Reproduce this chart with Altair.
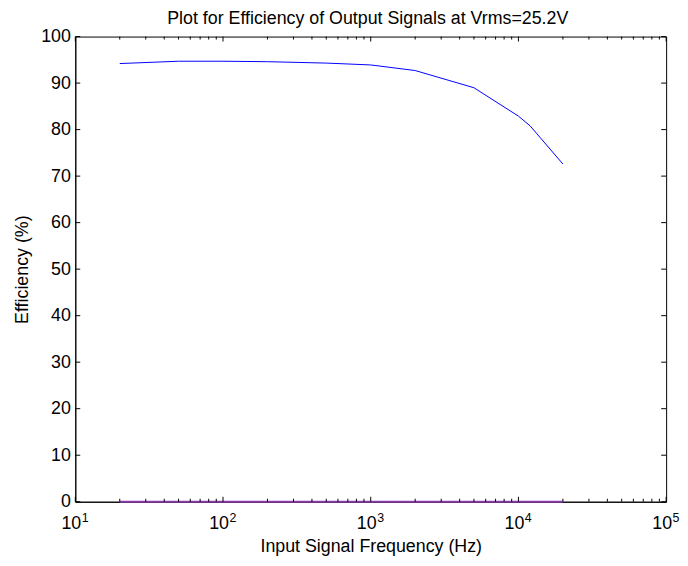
import altair as alt
import pandas as pd

# Data
freq = [20, 50, 100, 200, 500, 1000, 2000, 5000, 10000, 12000, 20000]
efficiency = [94.2, 94.7, 94.7, 94.6, 94.3, 93.9, 92.7, 89.0, 82.9, 80.8, 72.6]
zero_series = [0, 0, 0, 0, 0, 0, 0, 0, 0, 0, 0]

x_major = [10, 100, 1000, 10000, 100000]
x_base = ["10", "10", "10", "10", "10"]
x_exponent = ["1", "2", "3", "4", "5"]
x_minor = [m * 10 ** k for k in range(1, 5) for m in range(2, 10)]
y_major = [0, 10, 20, 30, 40, 50, 60, 70, 80, 90, 100]

W, H = 597, 470
FONT = "Liberation Sans"
FS = 18

df = pd.DataFrame({"freq": freq, "eff": efficiency, "zero": zero_series})
xmaj = pd.DataFrame({"v": x_major, "base": x_base, "exp": x_exponent})
xmin = pd.DataFrame({"v": x_minor})
ymaj = pd.DataFrame({"v": y_major})

xscale = alt.Scale(type="log", domain=[10, 100000], nice=False)
yscale = alt.Scale(domain=[0, 100], nice=False, zero=False)

eff_line = alt.Chart(df).mark_line(color="#0000FF", strokeWidth=1).encode(
    x=alt.X("freq:Q", scale=xscale,
            axis=alt.Axis(values=x_major, title="Input Signal Frequency (Hz)",
                          labels=False, tickSize=0, titlePadding=36, grid=False)),
    y=alt.Y("eff:Q", scale=yscale,
            axis=alt.Axis(values=y_major, title="Efficiency (%)", tickSize=0,
                          labelPadding=5, titlePadding=9, grid=False,
                          labelFlush=False, labelOverlap=False)),
)

zero_line = alt.Chart(df).mark_line(color="#8B3CAA", strokeWidth=2).encode(
    x=alt.X("freq:Q", scale=xscale),
    y=alt.Y("zero:Q", scale=yscale),
)

def xticks(data, length):
    bottom = alt.Chart(data).mark_rule(color="black", strokeWidth=1).encode(
        x=alt.X("v:Q", scale=xscale), y=alt.value(H), y2=alt.value(H - length))
    top = alt.Chart(data).mark_rule(color="black", strokeWidth=1).encode(
        x=alt.X("v:Q", scale=xscale), y=alt.value(0), y2=alt.value(length))
    return [bottom, top]

yt_left = alt.Chart(ymaj).mark_rule(color="black", strokeWidth=1).encode(
    y=alt.Y("v:Q", scale=yscale), x=alt.value(0), x2=alt.value(5))
yt_right = alt.Chart(ymaj).mark_rule(color="black", strokeWidth=1).encode(
    y=alt.Y("v:Q", scale=yscale), x=alt.value(W), x2=alt.value(W - 5))

base_lbl = alt.Chart(xmaj).mark_text(
    align="right", baseline="alphabetic", dx=6, font=FONT, fontSize=FS, color="black"
).encode(x=alt.X("v:Q", scale=xscale), y=alt.value(H + 27.7), text="base:N")

exp_lbl = alt.Chart(xmaj).mark_text(
    align="left", baseline="alphabetic", dx=6.5, font=FONT, fontSize=12.5, color="black"
).encode(x=alt.X("v:Q", scale=xscale), y=alt.value(H + 20.5), text="exp:N")

layers = ([eff_line, zero_line] + xticks(xmaj, 5) + xticks(xmin, 3)
          + [yt_left, yt_right, base_lbl, exp_lbl])

chart = alt.layer(*layers).properties(
    width=W, height=H,
    autosize=alt.AutoSizeParams(type="none"),
    padding={"left": 68, "top": 26, "right": 14, "bottom": 56},
    title=alt.TitleParams("Plot for Efficiency of Output Signals at Vrms=25.2V",
                          font=FONT, fontSize=FS, fontWeight="normal",
                          color="black", anchor="middle", offset=0, dx=-3),
).configure_view(stroke="black", strokeWidth=1).configure_axis(
    labelFont=FONT, titleFont=FONT, labelFontSize=FS, titleFontSize=FS,
    labelColor="black", titleColor="black", titleFontWeight="normal",
    domainColor="black", domainWidth=1,
)

chart.save("out.html", embed_options={"renderer": "svg", "actions": False})
